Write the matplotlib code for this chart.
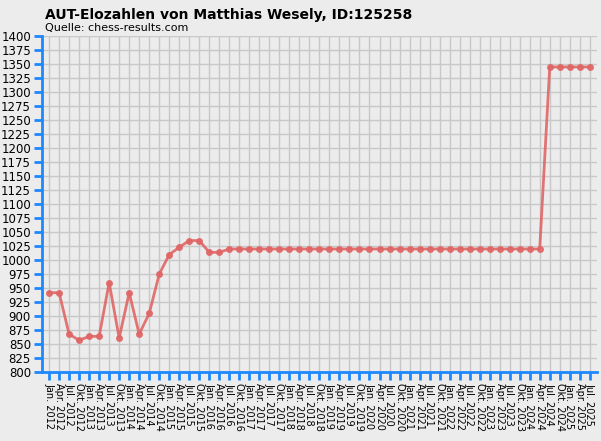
import matplotlib
matplotlib.use("Agg")
import matplotlib.pyplot as plt

months = ["Jan.", "Apr.", "Jul.", "Okt."]
labels = [f"{m} {y}" for y in range(2012, 2026) for m in months][:55]
start = [942, 942, 868, 857, 864, 864, 960, 861, 942, 868, 905, 975, 1010, 1023, 1035, 1035, 1014, 1014]
values = start + [1020] * (50 - len(start)) + [1345] * 5

fig = plt.figure(figsize=(6.01, 4.41), dpi=100, facecolor="#ececec")
ax = fig.add_axes([0.07, 0.156, 0.923, 0.762])
ax.set_facecolor("#ececec")
x = list(range(len(values)))
ax.plot(x, values, color="#e06666", lw=2, marker="o", ms=4, alpha=0.9)
ax.set_xlim(-0.7, 54.7)
ax.set_ylim(800, 1400)
ax.set_yticks(range(800, 1401, 25))
ax.set_yticklabels([str(v) for v in range(800, 1401, 25)], fontsize=8.5)
ax.set_xticks(x)
ax.set_xticklabels(labels, rotation=270, fontsize=7)
ax.grid(True, color="#c8c8c8", lw=1)
ax.set_axisbelow(True)
for s in ["top", "right"]:
    ax.spines[s].set_visible(False)
for s in ["left", "bottom"]:
    ax.spines[s].set_color("#1e88ff")
    ax.spines[s].set_linewidth(2)
ax.tick_params(colors="#1e88ff", width=2, length=6, labelcolor="black", pad=2)
fig.text(0.075, 0.967, "AUT-Elozahlen von Matthias Wesely, ID:125258", fontsize=10, fontweight="bold", va="center")
fig.text(0.075, 0.937, "Quelle: chess-results.com", fontsize=8, va="center")
fig.savefig("out.png", dpi=100, facecolor=fig.get_facecolor())
